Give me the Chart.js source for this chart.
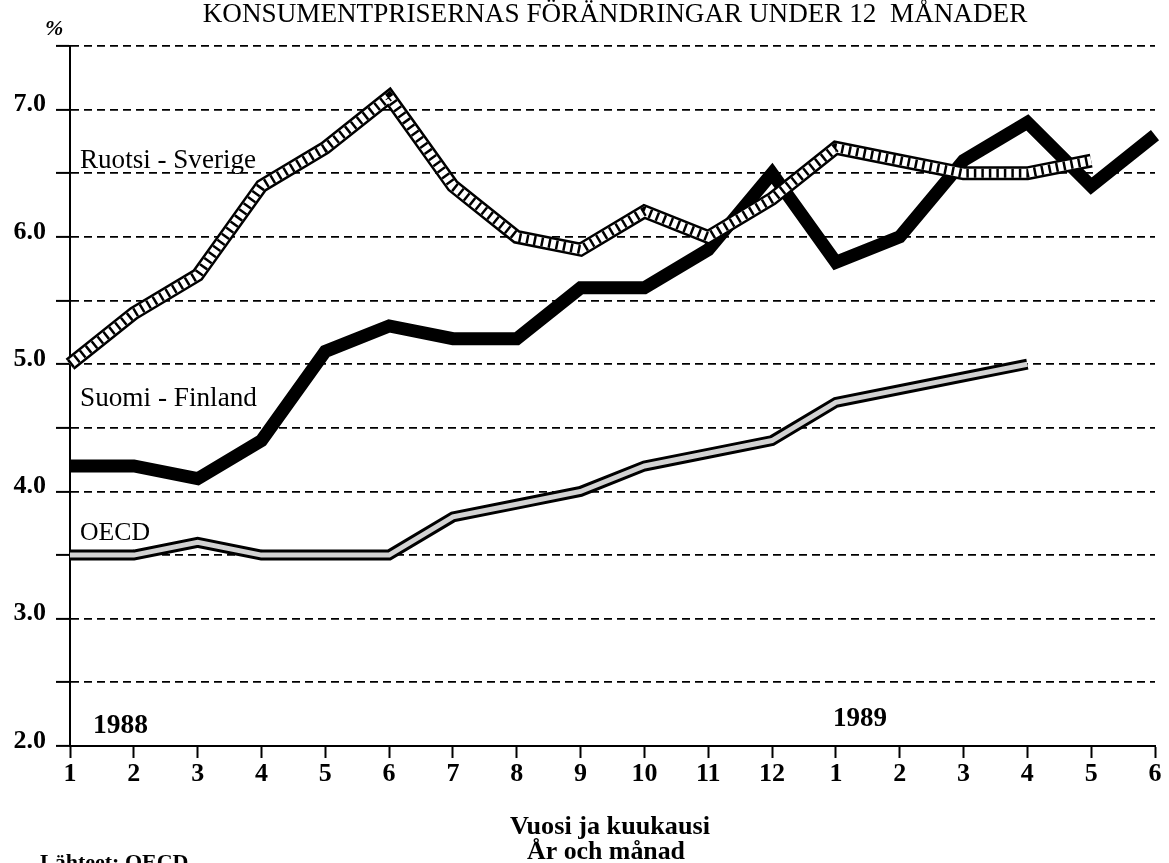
<!DOCTYPE html>
<html><head><meta charset="utf-8">
<script src="https://cdn.jsdelivr.net/npm/chart.js@4/dist/chart.umd.min.js"></script>
<style>html,body{margin:0;padding:0;background:#fff;}canvas{display:block;}</style>
</head><body>
<canvas id="c" width="1169" height="863"></canvas>
<script>
// ---- data ----
const months = ['1','2','3','4','5','6','7','8','9','10','11','12','1','2','3','4','5','6'];
const sweden  = [5.0,5.4,5.7,6.4,6.7,7.1,6.4,6.0,5.9,6.2,6.0,6.3,6.7,6.6,6.5,6.5,6.6,null];
const finland = [4.2,4.2,4.1,4.4,5.1,5.3,5.2,5.2,5.6,5.6,5.9,6.5,5.8,6.0,6.6,6.9,6.4,6.8];
const oecd    = [3.5,3.5,3.6,3.5,3.5,3.5,3.8,3.9,4.0,4.2,4.3,4.4,4.7,4.8,4.9,5.0,null,null];
const yTicks  = ['2.0','3.0','4.0','5.0','6.0','7.0'];

const titleText = 'KONSUMENTPRISERNAS FÖRÄNDRINGAR UNDER 12  MÅNADER';
const unitText = '%';
const seriesNames = ['Ruotsi - Sverige','Suomi - Finland','OECD'];
const yearLabels = ['1988','1989'];
const axisTitle = ['Vuosi ja kuukausi','År och månad'];
const sourceText = 'Lähteet: OECD';

const SERIF = "'Liberation Serif','Times New Roman',serif";

function layer(data, color, width, dash, order){
  return {data, borderColor: color, borderWidth: width, borderDash: dash || [],
    pointRadius: 0, pointHoverRadius: 0, tension: 0, fill: false, order,
    borderJoinStyle: 'miter', borderCapStyle: 'butt', spanGaps: false};
}

function fitFont(ctx, text, style, target){
  ctx.font = style + ' 100px ' + SERIF;
  const w = ctx.measureText(text).width;
  return style + ' ' + (100 * target / w).toFixed(2) + 'px ' + SERIF;
}

const textPlugin = {
  id: 'texts',
  afterDraw(chart){
    const ctx = chart.ctx;
    ctx.save();
    ctx.fillStyle = '#000';
    ctx.textBaseline = 'alphabetic';
    const put = (text, style, width, x, y, align) => {
      ctx.font = fitFont(ctx, text, style, width);
      ctx.textAlign = align || 'left';
      ctx.fillText(text, x, y);
    };
    put(titleText, 'normal', 825, 615, 22, 'center');
    ctx.font = 'italic bold 22px ' + SERIF; ctx.textAlign = 'left';
    ctx.fillText(unitText, 45, 35);
    put(seriesNames[0], 'normal', 176, 80, 168);
    put(seriesNames[1], 'normal', 177, 80, 406);
    put(seriesNames[2], 'normal', 70, 80, 540);
    put(yearLabels[0], 'bold', 55, 93, 733);
    put(yearLabels[1], 'bold', 54, 833, 726);
    put(axisTitle[0], 'bold', 200, 610, 834, 'center');
    put(axisTitle[1], 'bold', 158, 606, 859, 'center');
    ctx.font = 'bold 22px ' + SERIF; ctx.textAlign = 'left';
    ctx.fillText(sourceText, 40, 869);
    ctx.restore();
  }
};

new Chart(document.getElementById('c'), {
  type: 'line',
  data: {
    labels: months,
    datasets: [
      layer(sweden, '#000', 9, [2.5, 5], 0),
      layer(sweden, '#fff', 9, null, 1),
      layer(sweden, '#000', 14, null, 2),
      layer(finland, '#000', 13, null, 3),
      layer(oecd, '#d2d2d2', 5, null, 4),
      layer(oecd, '#000', 11, null, 5)
    ]
  },
  options: {
    responsive: false,
    animation: false,
    events: [],
    layout: {padding: {top: 46, right: 14, left: 0, bottom: 0}},
    plugins: {legend: {display: false}, tooltip: {enabled: false}, title: {display: false}},
    scales: {
      x: {
        type: 'category',
        offset: false,
        grid: {drawOnChartArea: false, drawTicks: true, tickLength: 12, tickColor: '#000', tickWidth: 2},
        border: {display: true, color: '#000', width: 2},
        ticks: {color: '#000', font: {family: SERIF, size: 26, weight: 'bold'}, padding: 1,
                maxRotation: 0, autoSkip: false},
        afterFit(s){ s.height = 117; }
      },
      y: {
        min: 2, max: 7.5,
        grid: {color: '#000', lineWidth: 1.8, drawTicks: true, tickLength: 14, tickColor: '#000',
               tickWidth: 2, tickBorderDash: []},
        border: {display: true, color: '#000', width: 2, dash: [8, 5]},
        ticks: {stepSize: 0.5, color: '#000', padding: 10, labelOffset: -5,
                font: {family: SERIF, size: 26, weight: 'bold'},
                callback(v){ const i = yTicks.indexOf(Number(v).toFixed(1)); return (Number.isInteger(v) && i >= 0) ? yTicks[i] : ''; }},
        afterFit(s){ s.width = 70; }
      }
    }
  },
  plugins: [textPlugin]
});
</script>
</body></html>
